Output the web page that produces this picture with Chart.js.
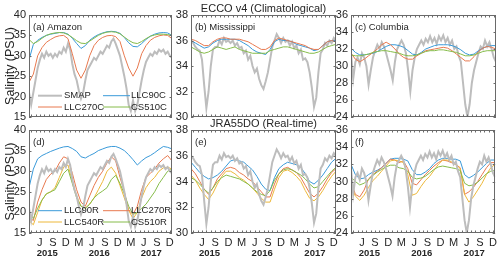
<!DOCTYPE html>
<html><head><meta charset="utf-8">
<script src="https://cdn.jsdelivr.net/npm/chart.js@4.4.0/dist/chart.umd.min.js"></script>
<style>
html,body{margin:0;padding:0;background:#fff;width:500px;height:259px;overflow:hidden}
canvas{position:absolute;left:0;top:0}
</style></head><body>
<canvas id="pa" width="500" height="259"></canvas>
<canvas id="pb" width="500" height="259"></canvas>
<canvas id="pc" width="500" height="259"></canvas>
<canvas id="pd" width="500" height="259"></canvas>
<canvas id="pe" width="500" height="259"></canvas>
<canvas id="pf" width="500" height="259"></canvas>
<script>
// time in months since Jan 2015 (5 = Jun 2015)
const tMonthly=[2.5,3.5,4.5,5.5,6.5,7.5,8.5,9.5,10.5,11.5,12.5,13.5,14.5,15.5,16.5,17.5,18.5,19.5,20.5,21.5,22.5,23.5,24.5,25.5,26.5,27.5,28.5,29.5,30.5,31.5,32.5,33.5,34.5,35.5];
const tHalf=[2.5,3,3.5,4,4.5,5,5.5,6,6.5,7,7.5,8,8.5,9,9.5,10,10.5,11,11.5,12,12.5,13,13.5,14,14.5,15,15.5,16,16.5,17,17.5,18,18.5,19,19.5,20,20.5,21,21.5,22,22.5,23,23.5,24,24.5,25,25.5,26,26.5,27,27.5,28,28.5,29,29.5,30,30.5,31,31.5,32,32.5,33,33.5,34,34.5,35,35.5];
const monthTicks=[3,4,5,6,7,8,9,10,11,12,13,14,15,16,17,18,19,20,21,22,23,24,25,26,27,28,29,30,31,32,33,34,35];
const monthLetters=['J','F','M','A','M','J','J','A','S','O','N','D'];
const yearLabels=['2015','2016','2017'];
const yearPos=[6.7,18.7,30.7];
const yTicksAmazon=[15,20,25,30,35,40];
const yTicksMiss=[30,32,34,36,38];
const yTicksCol=[24,26,28,30,32,34,36];

// SMAP observations (half-monthly)
const smapAmazon=[21,18,21,24,27,29,30.5,29.5,31,30,30.5,29.5,30.5,29.8,31,30.5,32,31,33,31.5,28,25.5,24,21.5,19.5,21,24,26.5,27.5,28.5,29.5,29,30,31,30.5,31.5,32.5,32,33.5,34.2,33,31.5,30,27.5,25,22,18,16.5,19,16.5,18,21,24,26.5,28.5,29.5,30.5,30,31,30.5,31.5,31,31.5,30.5,31,30,29.5];
const smapMiss=[36,35.8,35.5,35.3,35.2,34.5,32.5,30.7,32,34,35.3,35.5,35.5,36,35.7,36.2,35.9,36,35.8,36,35.6,35.8,35.4,35.5,35,35.2,34.5,34.8,34,33.5,33.8,33,32.5,32.2,32.8,33.5,34.5,35.5,36,36.5,36.2,35.8,36.2,35.9,36,35.6,35.9,35.4,35.6,35,35.3,34.5,34.6,34.3,33.5,32.3,30.8,31.5,33.5,35,35.3,35.8,35.6,36,35.8,36.2,36];
const smapCol=[31.5,28.5,30.5,31,30.2,31.5,31,30,27.8,29.5,31,31.8,32.5,32,32.8,32.3,31.5,30.5,29.5,28.3,30.5,32,32.5,33,32.5,31.5,29.5,27,29.5,31,32,32.5,33,32.5,33.2,32.8,33.5,32.8,33.3,32.6,33.5,33,33.6,32.8,33.3,32.5,33,32,32.3,31.2,30.5,28,25.5,24,25.5,28,29.5,30.5,31.5,32.3,32,33,32.3,32.8,32,31,30.5];

// Climatological runs (monthly)
const llc90C_am=[29,32.8,33.8,34.5,35,35.3,35.5,35.7,35.7,35.3,34.3,33,31.8,32.5,33.8,34.6,35.2,35.6,35.9,36,35.9,35.5,34.5,33.2,32.3,32.2,33,34,34.8,35.3,35.6,35.7,35.6,35];
const llc270C_am=[23.5,25.5,30,32,33.3,34,34.6,34.9,35,34.2,30.5,26.5,24.5,26.5,30,32.5,33.8,34.5,34.9,35,34.7,33.5,30,27,25,27,30.5,32.5,33.8,34.5,34.9,35.1,35,34.2];
const cs510C_am=[34,33,33.5,34.3,35,35.4,35.6,35.7,35.6,35.2,34.5,33.7,33.1,33,33.6,34.3,35,35.5,35.8,35.9,35.8,35.4,34.6,33.8,33.2,33,33.5,34.2,34.8,35.1,35.3,35.3,35.2,35];
const llc90C_mi=[36,35.8,35.6,35.4,35.5,35.8,36,36.1,36.1,36.1,36.1,36,35.8,35.6,35.3,35.1,35,34.9,35.3,35.9,36.1,36,36,35.9,35.7,35.6,35.5,35.4,35.2,35.3,35.6,35.9,36,36];
const llc270C_mi=[36.1,36,35.8,35.6,35.6,35.9,36.1,36.2,36.2,36.1,36.1,36.1,36,35.9,35.7,35.5,35.3,35.3,35.5,36,36.2,36.1,36,35.9,35.8,35.7,35.6,35.4,35.3,35.3,35.6,35.9,36,35.9];
const cs510C_mi=[35.5,35.3,35.1,35,35.1,35.3,35.5,35.4,35.3,35.4,35.5,35.3,35.2,35.1,35,35,35,35,35.2,35.3,35.4,35.5,35.5,35.4,35.3,35.2,35.1,35,35,35.1,35.3,35.5,35.6,35.7];
const llc90C_co=[32.1,31.6,31.3,31.3,31.4,31.5,31.7,32,32.3,32.5,32.5,32.4,32.2,31.8,31.4,31.3,31.6,32,32.2,32.4,32.5,32.5,32.5,32.4,32.2,31.9,31.5,31.3,31.4,31.8,32.1,32.3,32.4,32.4];
const llc270C_co=[31.5,30.8,30.5,30.8,31.2,31.6,32,32.5,32.8,32.5,32,31.4,31,30.8,30.8,31.2,31.5,31.8,31.9,32,32.1,32.2,32.1,31.8,31.4,31,30.6,30.6,31.1,31.7,32.1,32.3,32.2,32];
const cs510C_co=[31.3,31.2,31.2,31.3,31.4,31.6,31.7,31.8,31.8,31.7,31.6,31.5,31.3,31.2,31.2,31.3,31.5,31.7,31.8,31.8,31.9,31.9,31.8,31.7,31.6,31.4,31.2,31.2,31.3,31.5,31.7,31.8,31.8,31.8];

// Real-time runs (monthly)
const llc90R_am=[26,30.5,33,33.8,34.3,34.8,35.2,35.6,35.9,36,35.5,34.8,33.5,33.2,33.8,34.3,35,35.4,35.8,36,36,35.6,35,34,32.8,31.5,32.5,33.3,33.8,34.5,35.3,36,35.8,35.4];
const llc270R_am=[19,18,22.5,25.5,28,29.3,30,32,33.5,33,29.5,25.5,22.5,21.5,24,26.5,28.5,30,32,33.5,32.5,28.5,25,20.5,19.5,21.5,25.5,28.5,29.5,30.5,32,33,33.8,32.5];
const llc540R_am=[18,17,20,23,24.5,25,26,28.5,31,31.5,27.5,24,21.5,21,22,23.5,25.5,27.5,30,31,29.5,26.5,23.5,20.5,18.5,20,23.5,26,27.5,28.5,30,30.8,31,30.5];
const cs510R_am=[20,18.5,21,23,24.5,25,25.5,27.5,29.5,30.5,27,23.5,21.5,21,22,23.5,24.5,25.2,26,28,29,27,24.5,21.5,19.5,20,21,22,23.5,25,27,28.5,30,30.5];
const llc90R_mi=[35.5,35.1,34.7,34.4,34.2,34.3,34.5,34.8,35.2,35.6,35.7,35.6,35.5,35.2,34.9,34.4,33.8,33.4,33.3,34.3,35,35.3,35.5,35.4,35.3,35.1,34.6,34,33.8,34.1,34.5,35,35.5,35.8];
const llc270R_mi=[35,34.6,34,33.4,33,33.5,34.2,34.6,35,35.1,35,34.7,34.5,34.2,34,33.6,33.2,32.8,32.8,33.8,34.6,35,35.1,34.9,34.7,34.3,33.7,33.1,32.8,33.1,33.6,34.2,34.7,35];
const llc540R_mi=[34.5,34.1,33.5,33,32.6,33.1,33.8,34.4,34.8,34.8,34.6,34.3,34.1,33.8,33.5,33.1,32.7,32.4,32.4,33.4,34.3,34.8,34.9,34.7,34.4,34,33.3,32.7,32.5,32.8,33.3,33.9,34.4,34.8];
const cs510R_mi=[34.3,34.1,33.8,33.4,33.1,33.5,34,34.3,34.5,34.4,34.3,34.2,34,33.8,33.5,33.2,33,32.9,33.3,34.1,34.6,34.9,35,34.9,34.7,34.5,34.2,33.8,33.5,33.6,34,34.4,34.8,35.1];
const llc90R_co=[32,30.8,30.3,30.4,30.8,31.1,31.3,31.6,32.1,32.6,32.7,32.7,32.6,32.4,31.4,30.8,30.8,31.1,31.5,32.1,32.5,32.7,32.7,32.6,32.6,32.4,30.8,30.4,30.7,31.1,31.6,32.1,32.5,32.5];
const llc270R_co=[30,28.5,28.2,29,30.3,30.8,31.2,31.6,32.1,32.6,32.5,32.2,32.4,31.5,29.8,29.6,30.2,30.8,31.3,31.8,32.2,32.5,32.4,32.2,32,31.6,28.5,28.8,29.3,30,30.8,31.6,32.2,32.2];
const llc540R_co=[29.5,28.3,27.8,28.4,29.3,30.1,30.6,31.2,31.8,32.4,32.5,32.4,32.2,30.8,28.4,28.6,29.4,30.1,30.6,31.3,32,32.5,32.5,32.3,32,31.5,28.5,27.6,28.2,29,29.8,30.8,31.6,32];
const cs510R_co=[30.5,30,29.6,29.8,30.2,30.7,31.1,31.4,31.7,31.9,31.9,31.6,31.5,31.2,30.5,30.3,30.4,30.6,31,31.4,31.7,31.8,31.7,31.6,31.5,31.3,29.8,29.5,29.6,29.9,30.4,30.9,31.2,31.3];

const FONT="'Liberation Sans', Arial, Helvetica, sans-serif";
const TXT='#262626';
const COL={obs:'#BDBDBD',b:'#3A9AD9',o:'#E8794F',y:'#EDB83A',g:'#86BC4A'};

function series(t,ys){return t.map((x,i)=>({x:x,y:ys[i]}));}

const panelPlugin={
  id:'panel',
  afterDraw(chart,args,o){
    const ctx=chart.ctx,a=chart.chartArea,xs=chart.scales.x,ys=chart.scales.y;
    ctx.save();
    ctx.strokeStyle='#6a6a6a';ctx.lineWidth=1;
    ctx.beginPath();
    monthTicks.forEach(m=>{const px=Math.round(xs.getPixelForValue(m))+0.5;
      ctx.moveTo(px,a.bottom);ctx.lineTo(px,a.bottom-2.5);ctx.moveTo(px,a.top);ctx.lineTo(px,a.top+2.5);});
    o.yTicks.forEach(v=>{const py=Math.round(ys.getPixelForValue(v))+0.5;
      ctx.moveTo(a.left,py);ctx.lineTo(a.left+2.5,py);ctx.moveTo(a.right,py);ctx.lineTo(a.right-2.5,py);});
    ctx.stroke();
    ctx.strokeRect(Math.round(a.left)+0.5,Math.round(a.top)+0.5,Math.round(a.right-a.left)-1,Math.round(a.bottom-a.top)-1);
    ctx.fillStyle=TXT;
    ctx.font='9.5px '+FONT;ctx.textAlign='left';ctx.textBaseline='middle';
    ctx.fillText(o.label,a.left+4,a.top+12.5);
    if(o.legend){
      chart.data.datasets.filter(d=>d.inLegend).forEach((d,k)=>{
        const row=Math.floor(k/2),col=k%2;
        const y=a.top+80.7+row*11.3;
        const x0=a.left+(col?74:9),x1=a.left+(col?101:33),xt=a.left+(col?102:35);
        ctx.strokeStyle=d.borderColor;ctx.lineWidth=d.borderWidth;
        ctx.beginPath();ctx.moveTo(x0,y);ctx.lineTo(x1,y);ctx.stroke();
        ctx.fillStyle=TXT;ctx.fillText(d.label,xt,y);
      });
    }
    if(o.bottom){
      ctx.font='bold 9.5px '+FONT;ctx.textAlign='center';ctx.textBaseline='alphabetic';
      yearLabels.forEach((s,k)=>ctx.fillText(s,xs.getPixelForValue(yearPos[k]),256));
    }
    if(o.title){
      ctx.font='11px '+FONT;ctx.textAlign='center';ctx.textBaseline='alphabetic';
      ctx.fillText(o.title,(a.left+a.right)/2,a.top-3.5);
    }
    if(o.ylabel){
      ctx.font='12.5px '+FONT;ctx.textAlign='center';ctx.textBaseline='middle';
      ctx.translate(11,(a.top+a.bottom)/2);ctx.rotate(-Math.PI/2);
      ctx.fillText('Salinity (PSU)',0,0);
    }
    ctx.restore();
  }
};

function makePanel(p){
  const ds=p.sets.map(s=>{
    const obs=s[2]==='obs';
    return {label:s[0],data:series(obs?tHalf:tMonthly,s[1]),borderColor:COL[s[2]],
      borderWidth:obs?2:1,pointRadius:0,tension:0,fill:false,order:s[3],inLegend:p.legend&&s[4]};
  });
  const xh=p.bottom?20:0;
  new Chart(document.getElementById(p.id),{
    type:'line',
    data:{datasets:ds},
    options:{
      responsive:false,animation:false,devicePixelRatio:1,
      layout:{padding:{left:p.L-30,right:500-p.R,top:p.T,bottom:259-p.B-xh}},
      scales:{
        x:{type:'linear',min:2.5,max:35.5,
          afterBuildTicks(s){s.ticks=monthTicks.map(v=>({value:v}));},
          afterFit(s){s.height=xh;},
          grid:{display:false,drawTicks:false},border:{display:false},
          ticks:{display:p.bottom,autoSkip:false,maxRotation:0,padding:3,color:TXT,font:{family:FONT,size:11},
            callback:v=>(v%3===2?monthLetters[v%12]:'')}},
        y:{type:'linear',min:p.yMin,max:p.yMax,
          afterBuildTicks(s){s.ticks=p.yTicks.map(v=>({value:v}));},
          afterFit(s){s.width=30;},
          grid:{display:false,drawTicks:false},border:{display:false},
          ticks:{autoSkip:false,padding:3,color:TXT,font:{family:FONT,size:11}}}
      },
      plugins:{legend:{display:false},tooltip:{enabled:false},
        panel:{yTicks:p.yTicks,label:p.label,legend:p.legend,bottom:p.bottom,title:p.title,ylabel:p.ylabel}}
    },
    plugins:[panelPlugin]
  });
}

const panels=[
 {id:'pa',L:29,R:172,T:15,B:117,yMin:15,yMax:40,yTicks:yTicksAmazon,bottom:false,label:'(a) Amazon',ylabel:true,legend:true,
  sets:[['SMAP',smapAmazon,'obs',10,true],['LLC90C',llc90C_am,'b',3,true],['LLC270C',llc270C_am,'o',2,true],['CS510C',cs510C_am,'g',1,true]]},
 {id:'pb',L:191,R:336,T:15,B:117,yMin:30,yMax:38,yTicks:yTicksMiss,bottom:false,label:'(b) Mississippi',title:'ECCO v4 (Climatological)',
  sets:[['SMAP',smapMiss,'obs',10],['LLC90C',llc90C_mi,'b',3],['LLC270C',llc270C_mi,'o',2],['CS510C',cs510C_mi,'g',1]]},
 {id:'pc',L:351,R:496,T:15,B:117,yMin:24,yMax:36,yTicks:yTicksCol,bottom:false,label:'(c) Columbia',
  sets:[['SMAP',smapCol,'obs',10],['LLC90C',llc90C_co,'b',3],['LLC270C',llc270C_co,'o',2],['CS510C',cs510C_co,'g',1]]},
 {id:'pd',L:29,R:172,T:130,B:233,yMin:15,yMax:40,yTicks:yTicksAmazon,bottom:true,label:'(d)',ylabel:true,legend:true,
  sets:[['SMAP',smapAmazon,'obs',0,false],['LLC90R',llc90R_am,'b',4,true],['LLC270R',llc270R_am,'o',3,true],['LLC540R',llc540R_am,'y',2,true],['CS510R',cs510R_am,'g',1,true]]},
 {id:'pe',L:191,R:336,T:130,B:233,yMin:30,yMax:38,yTicks:yTicksMiss,bottom:true,label:'(e)',title:'JRA55DO (Real-time)',
  sets:[['SMAP',smapMiss,'obs',0],['LLC90R',llc90R_mi,'b',4],['LLC270R',llc270R_mi,'o',3],['LLC540R',llc540R_mi,'y',2],['CS510R',cs510R_mi,'g',1]]},
 {id:'pf',L:351,R:496,T:130,B:233,yMin:24,yMax:36,yTicks:yTicksCol,bottom:true,label:'(f)',
  sets:[['SMAP',smapCol,'obs',0],['LLC90R',llc90R_co,'b',4],['LLC270R',llc270R_co,'o',3],['LLC540R',llc540R_co,'y',2],['CS510R',cs510R_co,'g',1]]}
];
panels.forEach(makePanel);
</script>
</body></html>
